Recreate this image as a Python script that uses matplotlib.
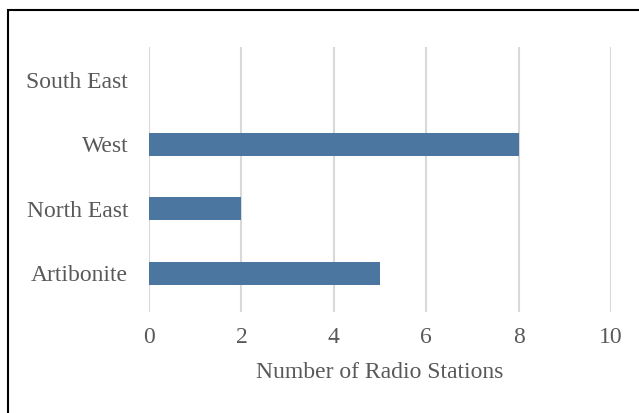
import matplotlib.pyplot as plt
from matplotlib.patches import Rectangle

# data
regions = ['Artibonite', 'North East', 'West', 'South East']
stations = [5, 2, 8, 0]
xticks = [0, 2, 4, 6, 8, 10]

txt_col = '#595959'
bar_col = '#4a76a0'

plt.rcParams['font.family'] = ['Liberation Serif', 'DejaVu Serif']

fig = plt.figure(figsize=(6.39, 4.13), dpi=100)
ax = fig.add_axes([149/639, 1-312/413, (611-149)/639, (312-47)/413])

ax.barh(range(len(regions)), stations, height=0.36, color=bar_col, zorder=3)
ax.set_xlim(0, 10)
ax.set_ylim(-0.6, 3.51)
ax.set_xticks(xticks)
ax.set_yticks(range(len(regions)))
ax.set_yticklabels(regions)
ax.grid(axis='x', color='#d9d9d9', linewidth=1.5, zorder=0)
for s in ax.spines.values():
    s.set_visible(False)
ax.tick_params(length=0, labelsize=17, labelcolor=txt_col)
ax.tick_params(axis='y', pad=15)
ax.tick_params(axis='x', pad=11)
ax.set_xlabel('Number of Radio Stations', fontsize=17, color=txt_col, labelpad=10)

# outer border
fig.patches.append(Rectangle((8/639, -0.01), 1.0, 1-10/413+0.01, transform=fig.transFigure,
                             fill=False, edgecolor='black', linewidth=1.5, clip_on=False))

fig.savefig('out.png', dpi=100)
